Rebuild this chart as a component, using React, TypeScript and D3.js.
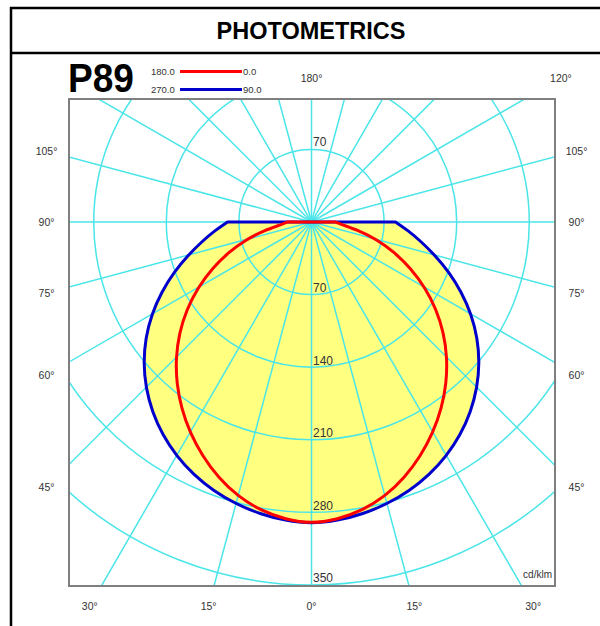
import React from "react";
import * as d3 from "d3";

// ---- data ----
const gammaDeg = [0, 5, 10, 15, 20, 25, 30, 35, 40, 45, 50, 55, 60, 65, 70, 75, 80, 85, 90];
// C0-C180 plane (red), cd/klm
const planeC0C180 = [291, 288, 282.5, 274, 262.5, 249, 234.5, 219, 202.5, 185, 166.5, 147, 126.5, 105.5, 85, 65, 46, 29, 23];
// C90-C270 plane (blue), cd/klm
const planeC90C270 = [291, 289, 286, 281.5, 276, 269, 260.5, 250.5, 239, 226, 211.5, 195.5, 178, 159.5, 141, 123, 107, 93.5, 81];

const ringValues = [70, 140, 210, 280, 350];
const spokeStepDeg = 15;

const angleLabels: { text: string; gamma: number; side: number }[] = [
  { text: "180°", gamma: 180, side: 1 },
  { text: "120°", gamma: 120, side: 1 },
  { text: "105°", gamma: 105, side: -1 },
  { text: "105°", gamma: 105, side: 1 },
  { text: "90°", gamma: 90, side: -1 },
  { text: "90°", gamma: 90, side: 1 },
  { text: "75°", gamma: 75, side: -1 },
  { text: "75°", gamma: 75, side: 1 },
  { text: "60°", gamma: 60, side: -1 },
  { text: "60°", gamma: 60, side: 1 },
  { text: "45°", gamma: 45, side: -1 },
  { text: "45°", gamma: 45, side: 1 },
  { text: "30°", gamma: 30, side: -1 },
  { text: "15°", gamma: 15, side: -1 },
  { text: "0°", gamma: 0, side: 1 },
  { text: "15°", gamma: 15, side: 1 },
  { text: "30°", gamma: 30, side: 1 },
];

const legendItems = [
  { left: "180.0", right: "0.0", color: "#ff0000" },
  { left: "270.0", right: "90.0", color: "#0000cc" },
];

// ---- layout ----
const W = 600;
const H = 626;
const cx = 311.5;
const cy = 222;
const box = { x0: 69, x1: 555, y0: 99, y1: 586 };
const pxPerCd = 1.037;
const labelRect = { l: -265, r: 265, t: -144, b: 384 };

const GRID = "#4ae5e8";
const FILL = "#ffff80";
const TXT = "#333333";
const FONT = "'Liberation Sans', Arial, Helvetica, sans-serif";

const rScale = d3.scaleLinear().domain([0, 350]).range([0, 350 * pxPerCd]);

function curvePath(values: number[]): string {
  const toRad = (g: number) => (g * Math.PI) / 180;
  const pts: [number, number][] = [];
  for (let i = gammaDeg.length - 1; i >= 0; i--) pts.push([Math.PI + toRad(gammaDeg[i]), values[i]]);
  for (let i = 1; i < gammaDeg.length; i++) pts.push([Math.PI - toRad(gammaDeg[i]), values[i]]);
  const line = d3
    .lineRadial<[number, number]>()
    .angle((d) => d[0])
    .radius((d) => rScale(d[1]))
    .curve(d3.curveBasis);
  return (line(pts) || "") + "L0,0Z";
}

function labelPos(gamma: number, side: number) {
  const g = (gamma * Math.PI) / 180;
  const dx = side * Math.sin(g);
  const dy = Math.cos(g);
  const ts: number[] = [];
  if (dy > 1e-9) ts.push(labelRect.b / dy);
  if (dy < -1e-9) ts.push(labelRect.t / dy);
  if (dx > 1e-9) ts.push(labelRect.r / dx);
  if (dx < -1e-9) ts.push(labelRect.l / dx);
  const t = Math.min(...ts);
  return { x: cx + dx * t, y: cy + dy * t };
}

export default function App() {
  const redPath = curvePath(planeC0C180);
  const bluePath = curvePath(planeC90C270);
  const spokes = d3.range(0, 360, spokeStepDeg);

  return (
    <svg
      width={W}
      height={H}
      viewBox={`0 0 ${W} ${H}`}
      style={{ position: "absolute", left: 0, top: 0, background: "#fff" }}
    >
      <defs>
        <clipPath id="boxClip">
          <rect x={box.x0} y={box.y0} width={box.x1 - box.x0} height={box.y1 - box.y0} />
        </clipPath>
      </defs>
      <rect x={0} y={0} width={W} height={H} fill="#fff" />

      {/* frame */}
      <line x1={10} y1={8} x2={W} y2={8} stroke="#000" strokeWidth={2.5} />
      <line x1={11} y1={7} x2={11} y2={H} stroke="#000" strokeWidth={2.5} />
      <line x1={10} y1={53} x2={W} y2={53} stroke="#000" strokeWidth={2.5} />
      <text x={311} y={38.5} textAnchor="middle" fontFamily={FONT} fontWeight="bold" fontSize={23.5} fill="#000">
        PHOTOMETRICS
      </text>

      {/* logo + legend */}
      <text x={68} y={92} fontFamily={FONT} fontWeight="bold" fontSize={41} fill="#000" textLength={66} lengthAdjust="spacingAndGlyphs">
        P89
      </text>
      {legendItems.map((it, i) => {
        const y = 71.5 + i * 18;
        return (
          <g key={i}>
            <text x={151} y={y + 3.5} fontFamily={FONT} fontSize={9.5} fill={TXT}>{it.left}</text>
            <line x1={180} x2={242} y1={y} y2={y} stroke={it.color} strokeWidth={3} />
            <text x={243} y={y + 3.5} fontFamily={FONT} fontSize={9.5} fill={TXT}>{it.right}</text>
          </g>
        );
      })}

      {/* plot */}
      <g clipPath="url(#boxClip)">
        <g transform={`translate(${cx},${cy})`}>
          <path d={bluePath} fill={FILL} stroke="none" />
          <path d={redPath} fill={FILL} stroke="none" />
          {ringValues.map((v) => (
            <circle key={v} r={rScale(v)} fill="none" stroke={GRID} strokeWidth={1.5} />
          ))}
          {spokes.map((a) => {
            const r = (a * Math.PI) / 180;
            return (
              <line key={a} x1={0} y1={0} x2={1000 * Math.sin(r)} y2={1000 * Math.cos(r)} stroke={GRID} strokeWidth={1.5} />
            );
          })}
          <path d={bluePath} fill="none" stroke="#0000cc" strokeWidth={3} strokeLinejoin="round" />
          <path d={redPath} fill="none" stroke="#ff0000" strokeWidth={3} strokeLinejoin="round" />
        </g>
      </g>
      <rect x={box.x0} y={box.y0} width={box.x1 - box.x0} height={box.y1 - box.y0} fill="none" stroke="#7f7f7f" strokeWidth={2} />

      {/* ring labels */}
      <text x={cx + 1.5} y={cy - rScale(70) - 3} fontFamily={FONT} fontSize={12} fill={TXT}>70</text>
      {ringValues.map((v) => (
        <text key={v} x={cx + 1.5} y={cy + rScale(v) - 2.5} fontFamily={FONT} fontSize={12} fill={TXT}>
          {v}
        </text>
      ))}

      {/* angle labels */}
      {angleLabels.map((l, i) => {
        const p = labelPos(l.gamma, l.side);
        return (
          <text key={i} x={p.x} y={p.y} textAnchor="middle" dominantBaseline="central" fontFamily={FONT} fontSize={10.5} fill={TXT}>
            {l.text}
          </text>
        );
      })}

      <text x={552} y={578} textAnchor="end" fontFamily={FONT} fontSize={10} fill={TXT}>cd/klm</text>
    </svg>
  );
}
